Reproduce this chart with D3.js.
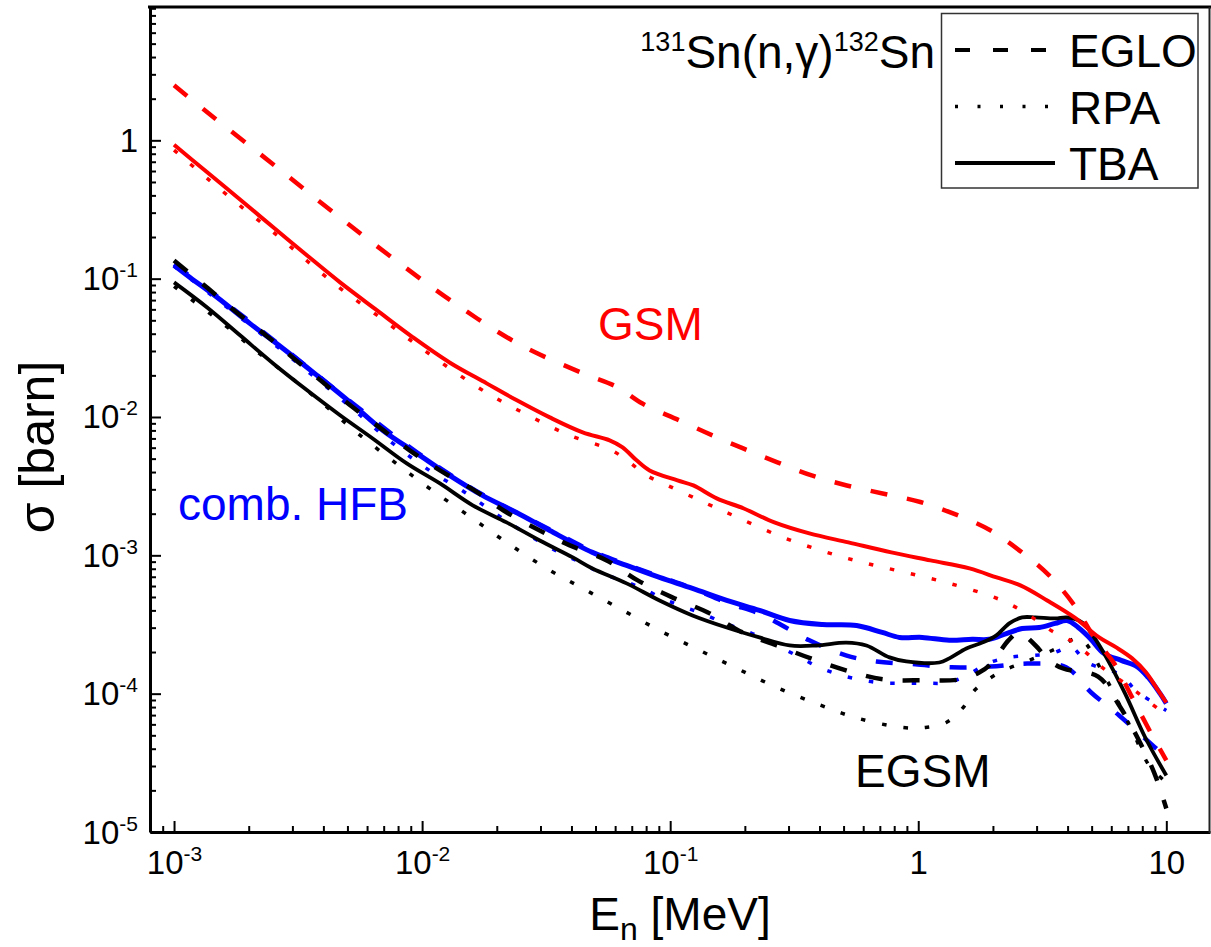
<!DOCTYPE html>
<html lang="en">
<head>
<meta charset="UTF-8">
<title>131Sn(n,g)132Sn capture cross sections</title>
<style>
    body { margin: 0; background: #fff; }
    svg { display: block; font-family: "Liberation Sans", Arial, sans-serif; }
</style>
<script src="https://d3js.org/d3.v7.min.js"></script>
</head>
<body>
<svg id="chart" width="1211" height="947"></svg>
<script>
// neutron energy [MeV], cross section [barn]

// GSM (red)
const gsmEglo = [[0.001,2.5],[0.00133,1.65],[0.00259,0.641],[0.00437,0.303],[0.00753,0.143],[0.0133,0.0678],[0.0243,0.034],[0.0444,0.0207],[0.0614,0.0164],[0.0773,0.0125],[0.109,0.00944],[0.148,0.00736],[0.198,0.0059],[0.269,0.00472],[0.372,0.00378],[0.515,0.0032],[0.726,0.00279],[1.02,0.00243],[1.44,0.00195],[1.96,0.00151],[2.62,0.00105],[3.37,7.16e-4],[4.26,4.35e-4],[5.12,2.55e-4],[6.17,1.65e-4],[7.28,9.4e-5],[8.69,5.15e-5],[10,3.3e-5]];
const gsmRpa = [[0.001,0.85],[0.00136,0.531],[0.00188,0.328],[0.0026,0.206],[0.00353,0.129],[0.0048,0.0822],[0.00676,0.0525],[0.00935,0.034],[0.0129,0.0225],[0.0184,0.0148],[0.0267,0.0103],[0.0394,0.00736],[0.0581,0.00574],[0.0686,0.0047],[0.0803,0.00378],[0.0977,0.0032],[0.14,0.00237],[0.187,0.00188],[0.273,0.00139],[0.407,0.00108],[0.596,8.89e-4],[0.887,7.52e-4],[1.34,6.26e-4],[2.03,4.96e-4],[2.39,4.35e-4],[2.88,3.56e-4],[3.43,2.86e-4],[4.1,2.43e-4],[4.8,1.95e-4],[5.51,1.55e-4],[7.08,1.13e-4],[8.69,8.5e-5],[10,7.0e-5]];
const gsmTba = [[0.001,0.93],[0.00133,0.607],[0.00185,0.372],[0.00251,0.235],[0.00344,0.147],[0.00467,0.094],[0.00658,0.059],[0.00918,0.0377],[0.0129,0.0248],[0.0182,0.0175],[0.0241,0.0132],[0.0327,0.00993],[0.0444,0.00774],[0.057,0.00678],[0.0643,0.00603],[0.0732,0.00486],[0.0826,0.00411],[0.107,0.00348],[0.124,0.0032],[0.154,0.00258],[0.198,0.00218],[0.263,0.00173],[0.364,0.00144],[0.523,0.00124],[0.779,0.00105],[1.12,9.19e-4],[1.61,8.04e-4],[2.07,6.92e-4],[2.58,6.06e-4],[3.31,4.72e-4],[4.26,3.56e-4],[5.36,2.55e-4],[6.28,2.16e-4],[7.28,1.8e-4],[8.29,1.42e-4],[9.1,1.11e-4],[10,8.6e-5]];

// EGSM (black)
const egsmEglo = [[0.001,0.1355],[0.00137,0.0851],[0.00179,0.057],[0.00235,0.0389],[0.00304,0.0265],[0.00398,0.0178],[0.00521,0.0119],[0.00682,0.00828],[0.00891,0.00574],[0.0118,0.00411],[0.0163,0.00294],[0.0213,0.00211],[0.0298,0.00151],[0.0394,0.00118],[0.0555,9.18e-4],[0.074,6.59e-4],[0.102,4.97e-4],[0.142,3.86e-4],[0.196,2.77e-4],[0.269,2.23e-4],[0.378,1.77e-4],[0.528,1.45e-4],[0.723,1.27e-4],[1.04,1.25e-4],[1.48,1.27e-4],[1.76,1.42e-4],[1.97,1.65e-4],[2.31,2.43e-4],[2.55,2.77e-4],[2.97,2.23e-4],[3.37,1.74e-4],[3.84,1.52e-4],[5.31,1.33e-4],[6.46,8.22e-5],[7.76,4.59e-5],[8.93,2.69e-5],[10,1.48e-5]];
const egsmRpa = [[0.001,0.0879],[0.00157,0.0475],[0.00218,0.0293],[0.00299,0.019],[0.00406,0.0121],[0.00551,0.0076],[0.00776,0.0047],[0.0107,0.00305],[0.0153,0.00195],[0.0219,0.00124],[0.0318,8.04e-4],[0.0444,5.77e-4],[0.0625,4.13e-4],[0.0906,2.86e-4],[0.129,2.09e-4],[0.182,1.55e-4],[0.263,1.13e-4],[0.396,8.36e-5],[0.574,6.62e-5],[0.863,5.7e-5],[1.069,5.7e-5],[1.297,6.19e-5],[1.507,7.82e-5],[1.698,1.07e-4],[2.123,1.42e-4],[2.799,1.74e-4],[3.698,2.16e-4],[4.457,2.51e-4],[5.61,1.36e-4],[7.278,5.42e-5],[8.531,3.03e-5],[10,2.28e-5]];
const egsmTba = [[0.001,0.094],[0.00136,0.0619],[0.00185,0.0388],[0.00251,0.0244],[0.00344,0.0156],[0.00467,0.0103],[0.00632,0.0070],[0.00867,0.00462],[0.0118,0.00331],[0.016,0.0023],[0.0219,0.00173],[0.0298,0.00128],[0.0405,9.66e-4],[0.0486,8.04e-4],[0.0667,6.27e-4],[0.0906,4.72e-4],[0.123,3.68e-4],[0.169,3.01e-4],[0.229,2.55e-4],[0.303,2.23e-4],[0.389,2.23e-4],[0.513,2.34e-4],[0.618,2.23e-4],[0.766,1.83e-4],[0.895,1.71e-4],[1.216,1.68e-4],[1.334,1.8e-4],[1.563,2.12e-4],[1.811,2.34e-4],[2.065,2.64e-4],[2.328,3.22e-4],[2.624,3.56e-4],[2.965,3.56e-4],[3.565,3.5e-4],[3.981,3.56e-4],[4.581,3.27e-4],[5.117,2.55e-4],[5.728,1.83e-4],[6.823,1.0e-4],[8.222,4.82e-5],[10,2.56e-5]];

// comb. HFB (blue)
const hfbEglo = [[0.001,0.127],[0.00149,0.0745],[0.00275,0.0318],[0.00512,0.013],[0.00953,0.00555],[0.0175,0.00275],[0.0327,0.00154],[0.0486,0.00107],[0.0667,8.59e-4],[0.0906,7.03e-4],[0.123,5.77e-4],[0.169,4.56e-4],[0.229,3.79e-4],[0.269,3.27e-4],[0.364,2.43e-4],[0.511,1.89e-4],[0.678,1.71e-4],[0.973,1.63e-4],[1.358,1.55e-4],[1.95,1.57e-4],[2.773,1.65e-4],[3.945,1.55e-4],[4.977,1.02e-4],[6.457,6.95e-5],[8.375,4.59e-5],[10,3.46e-5]];
const hfbRpa = [[0.001,0.123],[0.00149,0.0708],[0.00275,0.0298],[0.00512,0.0119],[0.00762,0.00644],[0.0107,0.00411],[0.0149,0.00285],[0.0211,0.00185],[0.0306,0.00122],[0.0369,0.00102],[0.0444,8.73e-4],[0.052,7.52e-4],[0.0637,6.59e-4],[0.0775,5.77e-4],[0.0931,4.88e-4],[0.112,4.28e-4],[0.135,3.79e-4],[0.163,3.27e-4],[0.185,3.01e-4],[0.223,2.64e-4],[0.269,2.23e-4],[0.323,1.89e-4],[0.393,1.57e-4],[0.476,1.38e-4],[0.574,1.27e-4],[0.703,1.2e-4],[0.863,1.19e-4],[1.069,1.19e-4],[1.309,1.2e-4],[1.578,1.36e-4],[1.897,1.65e-4],[2.328,1.83e-4],[3.436,1.95e-4],[4.14,2.16e-4],[4.797,1.68e-4],[6.577,1.36e-4],[7.551,1.05e-4],[10,7.57e-5]];
const hfbTba = [[0.001,0.125],[0.00116,0.102],[0.00149,0.0733],[0.00202,0.0475],[0.00275,0.0313],[0.00377,0.02],[0.00512,0.0128],[0.00695,0.008],[0.00953,0.00546],[0.0129,0.00378],[0.0175,0.00271],[0.024,0.00204],[0.0327,0.00151],[0.0486,0.00105],[0.0667,8.45e-4],[0.0906,6.92e-4],[0.123,5.77e-4],[0.169,4.72e-4],[0.229,4.0e-4],[0.303,3.38e-4],[0.411,3.16e-4],[0.564,3.11e-4],[0.716,2.77e-4],[0.84,2.55e-4],[1.038,2.55e-4],[1.334,2.43e-4],[1.652,2.47e-4],[1.932,2.47e-4],[2.265,2.72e-4],[2.624,2.96e-4],[3.076,3.01e-4],[3.565,3.22e-4],[3.981,3.38e-4],[4.416,3.01e-4],[4.932,2.51e-4],[5.61,1.95e-4],[6.577,1.74e-4],[7.621,1.57e-4],[8.453,1.31e-4],[9.441,1.0e-4],[10,8.5e-5]];

// axis ticks and labels
const xMajor = [1e-3, 1e-2, 1e-1, 1, 10];
const xMajorLabels = [["10", "-3"], ["10", "-2"], ["10", "-1"], ["1", ""], ["10", ""]];
const yMajor = [1e-5, 1e-4, 1e-3, 1e-2, 1e-1, 1];
const yMajorLabels = [["10", "-5"], ["10", "-4"], ["10", "-3"], ["10", "-2"], ["10", "-1"], ["1", ""]];
const legendNames = ["EGLO", "RPA", "TBA"];

var svg = d3.select("#chart");
svg.append("rect").attr("width", 1211).attr("height", 947).attr("fill", "#fff");

var x = d3.scaleLog().domain([8e-4, 15]).range([150, 1210]);
var y = d3.scaleLog().domain([1e-5, 9.2]).range([832, 7]);

// line styles: dashed = EGLO, dotted = RPA, solid = TBA
var styles = {
    dashed: { dash: "17,20", width: 4.5 },
    dotted: { dash: "4.5,17", width: 3.5 },
    solid: { dash: null, width: 4 }
};

var curves = [
    { data: hfbEglo, color: "#0000ff", style: "dashed" },
    { data: hfbRpa, color: "#0000ff", style: "dotted" },
    { data: hfbTba, color: "#0000ff", style: "solid", width: 5 },
    { data: egsmEglo, color: "#000000", style: "dashed" },
    { data: egsmRpa, color: "#000000", style: "dotted" },
    { data: egsmTba, color: "#000000", style: "solid", width: 3.8 },
    { data: gsmEglo, color: "#ff0000", style: "dashed" },
    { data: gsmRpa, color: "#ff0000", style: "dotted" },
    { data: gsmTba, color: "#ff0000", style: "solid" }
];

var line = d3.line()
    .x(d => x(d[0]))
    .y(d => y(d[1]))
    .curve(d3.curveCatmullRom.alpha(0.5));

svg.append("g").selectAll("path")
    .data(curves)
    .enter()
    .append("path")
    .attr("d", d => line(d.data))
    .attr("fill", "none")
    .attr("stroke", d => d.color)
    .attr("stroke-width", d => d.width || styles[d.style].width)
    .attr("stroke-dasharray", d => styles[d.style].dash)
    .attr("stroke-linejoin", "round");

// minor tick values (2..9 in each decade)
function minorTicks(scale) {
    return scale.ticks().filter(v => {
        var m = v / Math.pow(10, Math.floor(Math.log10(v) + 1e-9));
        return Math.abs(m - 1) > 1e-6;
    });
}

// bottom axis
svg.append("g")
    .attr("transform", "translate(0,832)")
    .call(d3.axisBottom(x).tickValues(minorTicks(x)).tickSize(-6).tickSizeOuter(0).tickFormat(""))
    .call(g => g.select(".domain").remove())
    .call(g => g.selectAll(".tick line").attr("stroke-width", 2));

var xAxisG = svg.append("g")
    .attr("transform", "translate(0,832)")
    .attr("font-family", null)
    .attr("font-size", null)
    .call(d3.axisBottom(x).tickValues(xMajor).tickSize(-11).tickSizeOuter(0).tickFormat(() => ""));
xAxisG.select(".domain").attr("stroke-width", 3);
xAxisG.selectAll(".tick line").attr("stroke-width", 2);
xAxisG.selectAll(".tick text").each(function (d, i) {
    var t = d3.select(this).attr("y", 42).attr("dy", null).attr("font-size", 33).attr("fill", "#000");
    t.append("tspan").text(xMajorLabels[i][0]);
    if (xMajorLabels[i][1]) t.append("tspan").attr("dy", -13).attr("font-size", 21).text(xMajorLabels[i][1]);
});

// left axis
svg.append("g")
    .attr("transform", "translate(150,0)")
    .call(d3.axisLeft(y).tickValues(minorTicks(y)).tickSize(-6).tickSizeOuter(0).tickFormat(""))
    .call(g => g.select(".domain").remove())
    .call(g => g.selectAll(".tick line").attr("stroke-width", 2));

var yAxisG = svg.append("g")
    .attr("transform", "translate(150,0)")
    .attr("font-family", null)
    .attr("font-size", null)
    .call(d3.axisLeft(y).tickValues(yMajor).tickSize(-11).tickSizeOuter(0).tickFormat(() => ""));
yAxisG.select(".domain").attr("stroke-width", 3);
yAxisG.selectAll(".tick line").attr("stroke-width", 2);
yAxisG.selectAll(".tick text").each(function (d, i) {
    var t = d3.select(this).attr("x", -12).attr("dy", 11).attr("font-size", 33).attr("fill", "#000");
    t.append("tspan").text(yMajorLabels[i][0]);
    if (yMajorLabels[i][1]) t.append("tspan").attr("dy", -13).attr("font-size", 21).text(yMajorLabels[i][1]);
});

// top and right frame
svg.append("line").attr("x1", 148).attr("x2", 1211).attr("y1", 7).attr("y2", 7)
    .attr("stroke", "#000").attr("stroke-width", 3);
svg.append("line").attr("x1", 1209.5).attr("x2", 1209.5).attr("y1", 7).attr("y2", 833)
    .attr("stroke", "#222").attr("stroke-width", 2);

// axis titles
var xTitle = svg.append("text")
    .attr("x", 680).attr("y", 930)
    .attr("text-anchor", "middle")
    .attr("font-size", 46);
xTitle.append("tspan").text("E");
xTitle.append("tspan").attr("dy", 10).attr("font-size", 32).text("n");
xTitle.append("tspan").attr("dy", -10).text(" [MeV]");

svg.append("text")
    .attr("transform", "translate(54,447) rotate(-90)")
    .attr("text-anchor", "middle")
    .attr("font-size", 50)
    .text("σ [barn]");

// curve group labels
svg.append("text").attr("x", 598).attr("y", 340).attr("font-size", 46).attr("fill", "#ff0000").text("GSM");
svg.append("text").attr("x", 178).attr("y", 520).attr("font-size", 46).attr("fill", "#0000ff").text("comb. HFB");
svg.append("text").attr("x", 855).attr("y", 787).attr("font-size", 46).attr("fill", "#000").text("EGSM");

// reaction title
var title = svg.append("text")
    .attr("x", 935).attr("y", 68)
    .attr("text-anchor", "end")
    .attr("font-size", 46);
title.append("tspan").attr("font-size", 27).attr("dy", -17).text("131");
title.append("tspan").attr("dy", 17).text("Sn(n,γ)");
title.append("tspan").attr("font-size", 27).attr("dy", -17).text("132");
title.append("tspan").attr("dy", 17).text("Sn");

// legend
var legend = svg.append("g");
legend.append("rect")
    .attr("x", 941.5).attr("y", 13.5).attr("width", 256.5).attr("height", 174.5)
    .attr("fill", "#fff").attr("stroke", "#333").attr("stroke-width", 1.5);
var legendStyles = ["dashed", "dotted", "solid"];
legendNames.forEach(function (name, i) {
    var ly = 50 + i * 56.5;
    legend.append("line")
        .attr("x1", 955).attr("x2", legendStyles[i] === "solid" ? 1055 : 1050)
        .attr("y1", ly).attr("y2", ly)
        .attr("stroke", "#000")
        .attr("stroke-width", legendStyles[i] === "dotted" ? 3.5 : 4)
        .attr("stroke-dasharray", legendStyles[i] === "dashed" ? "15,23" : (legendStyles[i] === "dotted" ? "3,19.5" : null));
    legend.append("text")
        .attr("x", 1069).attr("y", ly + 17)
        .attr("font-size", 46)
        .text(name);
});
</script>
</body>
</html>
